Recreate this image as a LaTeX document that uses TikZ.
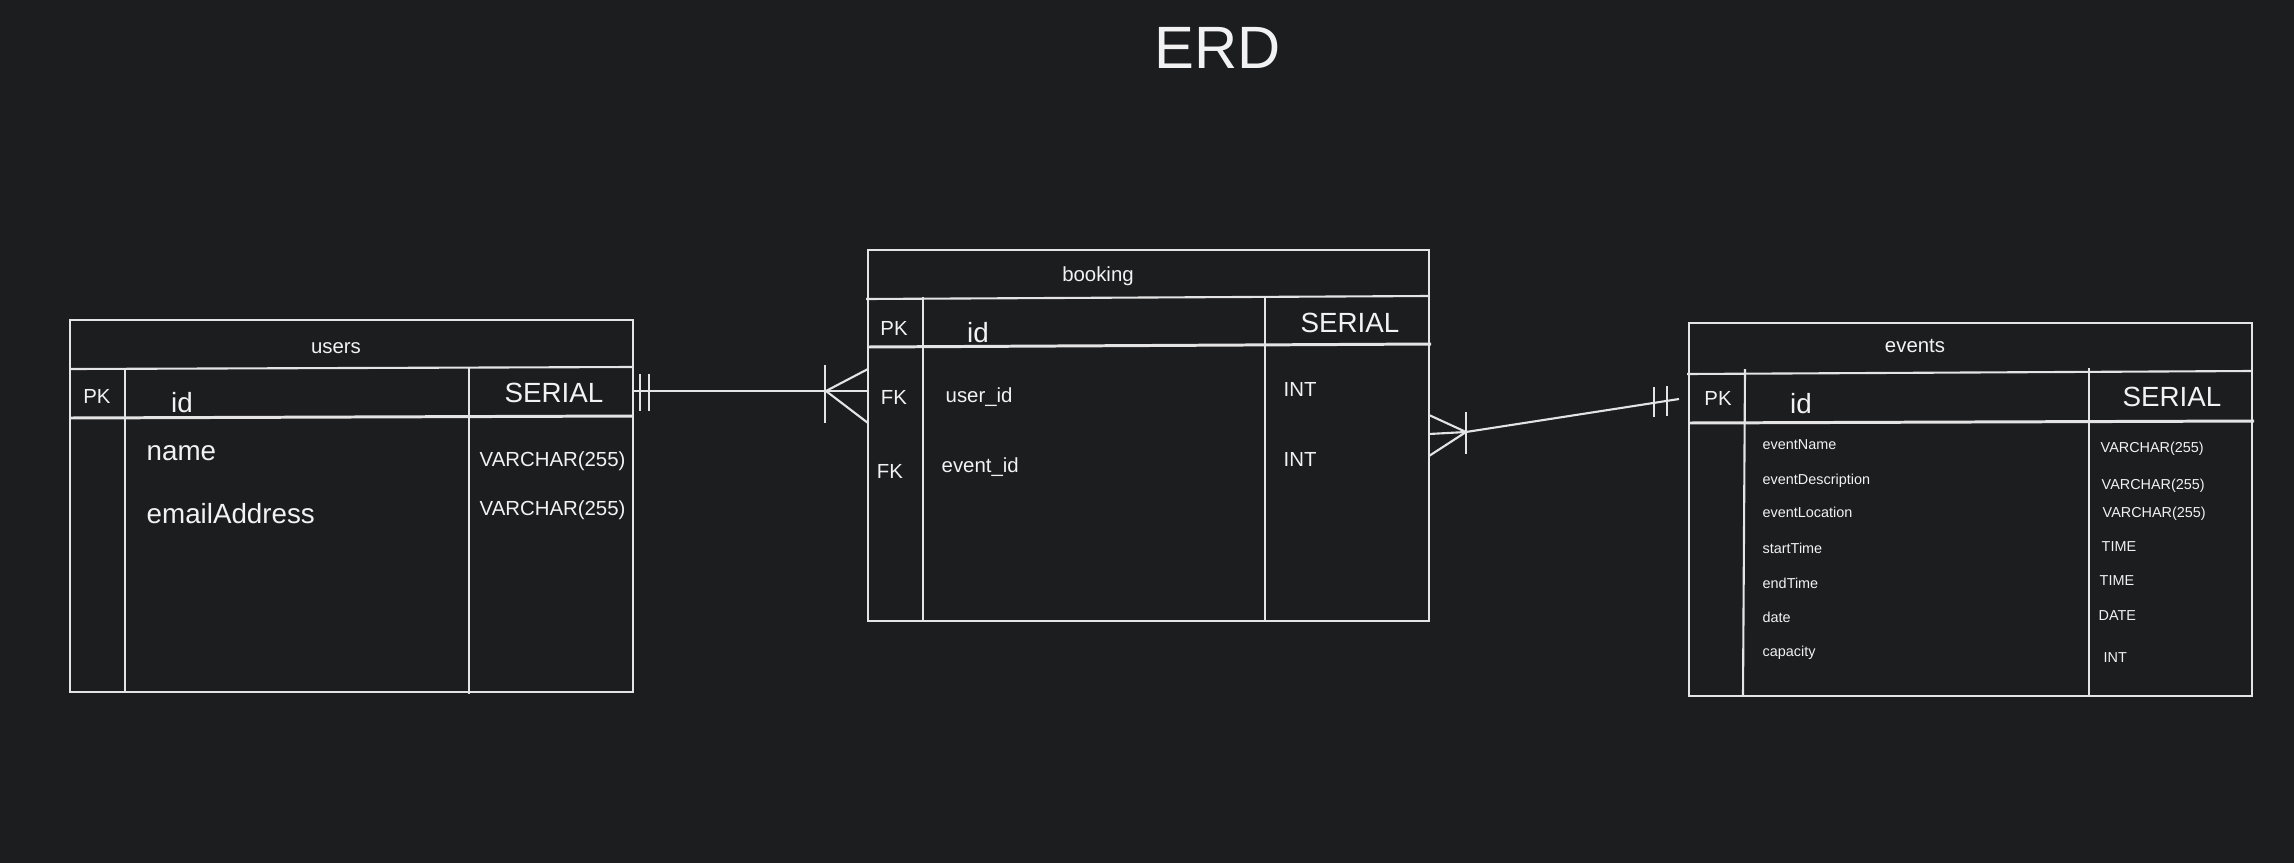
\documentclass[tikz,border=0pt]{standalone}
\usepackage{fontspec}
\setmainfont{Liberation Sans}
\usetikzlibrary{calc}

\begin{document}
\begin{tikzpicture}[
    tbl/.style={draw=lineWhite, line width=0.6pt},
    tblRow/.style={draw=lineWhite, line width=0.85pt},
    txtTitle/.style={inner sep=0pt, text=inkWhite, font=\fontsize{17}{20}\selectfont},
    txtBig/.style={inner sep=0pt, text=inkWhite, font=\fontsize{7.9}{9}\selectfont},
    txtMid/.style={inner sep=0pt, text=inkWhite, font=\fontsize{5.8}{7}\selectfont},
    txtSmall/.style={inner sep=0pt, text=inkWhite, font=\fontsize{4.1}{5}\selectfont}
  ]
    % 定义颜色
    \definecolor{bgDark}{RGB}{28,29,31}      % 背景
    \definecolor{lineWhite}{RGB}{228,228,228} % 线条
    \definecolor{inkWhite}{RGB}{242,242,242}  % 文字

    % 背景
    \useasboundingbox (0,0) rectangle (22.94,8.62);
    \fill[bgDark] (-0.2,-0.2) rectangle (23.14,8.82);

    % 标题
    \node[txtTitle, anchor=base] (title) at (12.18,7.94) {ERD};

    % users 表
    \draw[tbl] (0.70,1.70) rectangle (6.33,5.42);
    \draw[tbl] (0.70,4.93) -- (6.33,4.95);
    \draw[tblRow] (0.70,4.44) -- (6.33,4.46);
    \draw[tbl] (1.25,4.94) -- (1.25,1.70);
    \draw[tbl] (4.69,4.95) -- (4.69,1.68);
    \node[txtMid, anchor=base] (users) at (3.36,5.09) {users};
    \node[txtMid, anchor=base] (uPK) at (0.97,4.59) {PK};
    \node[txtBig, anchor=base] (uId) at (1.82,4.50) {id};
    \node[txtBig, anchor=base] (uIdT) at (5.54,4.60) {SERIAL};
    \node[txtBig, anchor=base west] (uName) at (1.46,4.02) {name};
    \node[txtBig, anchor=base west] (uMail) at (1.46,3.39) {emailAddress};
    \node[txtMid, anchor=base west] (uNameT) at (4.79,3.96) {VARCHAR(255)};
    \node[txtMid, anchor=base west] (uMailT) at (4.79,3.47) {VARCHAR(255)};

    % booking 表
    \draw[tbl] (8.68,2.41) rectangle (14.29,6.12);
    \draw[tbl] (8.66,5.63) -- (14.29,5.66);
    \draw[tblRow] (8.68,5.15) -- (14.31,5.18);
    \draw[tbl] (9.23,5.65) -- (9.23,2.41);
    \draw[tbl] (12.65,5.66) -- (12.65,2.40);
    \node[txtMid, anchor=base] (booking) at (10.98,5.81) {booking};
    \node[txtMid, anchor=base] (bPK) at (8.94,5.27) {PK};
    \node[txtBig, anchor=base] (bId) at (9.78,5.20) {id};
    \node[txtBig, anchor=base] (bIdT) at (13.50,5.30) {SERIAL};
    \node[txtMid, anchor=base] (bFK1) at (8.94,4.58) {FK};
    \node[txtMid, anchor=base west] (bUser) at (9.45,4.60) {user\_id};
    \node[txtMid, anchor=base west] (bUserT) at (12.83,4.66) {INT};
    \node[txtMid, anchor=base] (bFK2) at (8.90,3.84) {FK};
    \node[txtMid, anchor=base west] (bEvent) at (9.41,3.90) {event\_id};
    \node[txtMid, anchor=base west] (bEventT) at (12.83,3.96) {INT};

    % events 表
    \draw[tbl] (16.89,1.66) rectangle (22.52,5.39);
    \draw[tbl] (16.87,4.88) -- (22.52,4.91);
    \draw[tblRow] (16.89,4.39) -- (22.54,4.41);
    \draw[tbl] (17.45,4.93) -- (17.43,1.66);
    \draw[tbl] (20.89,4.94) -- (20.89,1.66);
    \node[txtMid, anchor=base] (events) at (19.15,5.10) {events};
    \node[txtMid, anchor=base] (ePK) at (17.18,4.57) {PK};
    \node[txtBig, anchor=base] (eId) at (18.01,4.49) {id};
    \node[txtBig, anchor=base] (eIdT) at (21.72,4.56) {SERIAL};
    \node[txtSmall, anchor=base west] (eName) at (17.62,4.13) {eventName};
    \node[txtSmall, anchor=base west] (eDesc) at (17.62,3.78) {eventDescription};
    \node[txtSmall, anchor=base west] (eLoc) at (17.62,3.45) {eventLocation};
    \node[txtSmall, anchor=base west] (eStart) at (17.62,3.09) {startTime};
    \node[txtSmall, anchor=base west] (eEnd) at (17.62,2.74) {endTime};
    \node[txtSmall, anchor=base west] (eDate) at (17.62,2.40) {date};
    \node[txtSmall, anchor=base west] (eCap) at (17.62,2.06) {capacity};
    \node[txtSmall, anchor=base west] (eNameT) at (21.00,4.10) {VARCHAR(255)};
    \node[txtSmall, anchor=base west] (eDescT) at (21.01,3.73) {VARCHAR(255)};
    \node[txtSmall, anchor=base west] (eLocT) at (21.02,3.45) {VARCHAR(255)};
    \node[txtSmall, anchor=base west] (eStartT) at (21.01,3.11) {TIME};
    \node[txtSmall, anchor=base west] (eEndT) at (20.99,2.77) {TIME};
    \node[txtSmall, anchor=base west] (eDateT) at (20.98,2.42) {DATE};
    \node[txtSmall, anchor=base west] (eCapT) at (21.03,2.00) {INT};

    % users -- booking 关系
    \coordinate (usersR) at (6.33,4.71);
    \coordinate (bookL) at (8.68,4.71);
    \coordinate (crowA) at (8.26,4.71);
    \draw[tbl] (usersR) -- (bookL);
    \draw[tbl] ($(usersR)+(0.07,0.17)$) -- ++(0,-0.37);
    \draw[tbl] ($(usersR)+(0.16,0.17)$) -- ++(0,-0.37);
    \draw[tbl] (crowA) -- ++(0.42,0.22);
    \draw[tbl] (crowA) -- ++(0.42,-0.32);
    \draw[tbl] ($(crowA)+(-0.01,0.26)$) -- ++(0,-0.58);

    % booking -- events 关系
    \coordinate (bookR) at (14.29,4.28);
    \coordinate (crowB) at (14.66,4.30);
    \coordinate (eventsL) at (16.79,4.63);
    \draw[tbl] (crowB) -- (eventsL);
    \draw[tbl] (crowB) -- (bookR);
    \draw[tbl] (crowB) -- ++(-0.37,0.17);
    \draw[tbl] (crowB) -- ++(-0.37,-0.24);
    \draw[tbl] ($(crowB)+(0,0.20)$) -- ++(0,-0.42);
    \draw[tbl] ($(eventsL)+(-0.25,0.12)$) -- ++(0,-0.30);
    \draw[tbl] ($(eventsL)+(-0.12,0.13)$) -- ++(0,-0.30);
\end{tikzpicture}
\end{document}
